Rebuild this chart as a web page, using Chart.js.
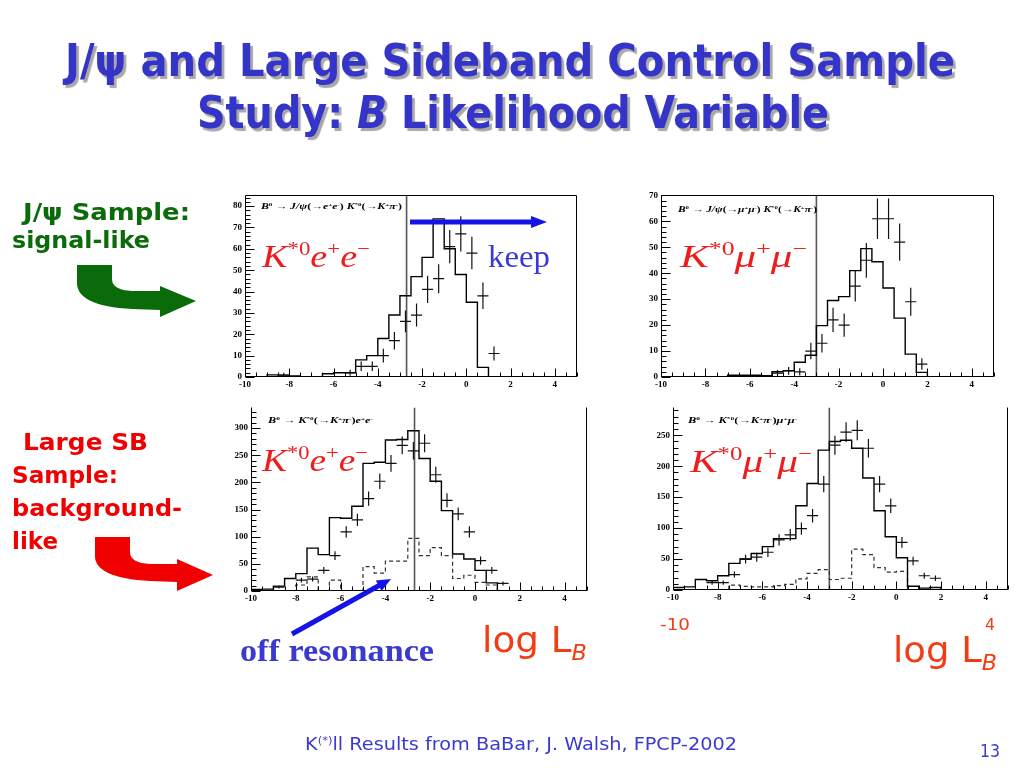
<!DOCTYPE html>
<html><head><meta charset="utf-8">
<script src="https://cdn.jsdelivr.net/npm/chart.js@4.4.0/dist/chart.umd.min.js"></script>
<style>
html,body{margin:0;padding:0;background:#fff;width:1024px;height:768px;overflow:hidden;position:relative}
.tx{position:absolute;white-space:nowrap;line-height:1;transform-origin:0 0;left:0;top:0}
.tx sup{font-size:0.6em;vertical-align:0.6em;line-height:0}
.tx sub{font-size:0.6em;vertical-align:-0.35em;line-height:0}
canvas{position:absolute}
.ttl{font:bold 44px "DejaVu Sans";color:#3434c8;text-shadow:3px 3px 1px #a8a8a8}
.grn{font:bold 23px "DejaVu Sans";color:#0b6b0b}
.red{font:bold 23px "DejaVu Sans";color:#f00000}
.kl{font:32px "Liberation Serif";color:#ee1c1c}
.rt{font:bold 8px "Liberation Serif";color:#000}
.lg{font:36px "DejaVu Sans";color:#f23c14}
.ft{font:18px "DejaVu Sans";color:#3a3ad0}
</style></head><body>

<canvas id="c1"></canvas><canvas id="c2"></canvas><canvas id="c3"></canvas><canvas id="c4"></canvas>

<div class="tx ttl" data-x="65" data-b="76" data-w="890">J/ψ and Large Sideband Control Sample</div>
<div class="tx ttl" data-x="197" data-b="128" data-w="632">Study: <i>B</i> Likelihood Variable</div>

<div class="tx grn" data-x="23" data-b="220" data-w="167">J/ψ Sample:</div>
<div class="tx grn" data-x="12" data-b="248" data-w="138">signal-like</div>
<div class="tx red" data-x="23" data-b="450" data-w="125">Large SB</div>
<div class="tx red" data-x="12" data-b="483" data-w="106">Sample:</div>
<div class="tx red" data-x="12" data-b="516" data-w="170">background-</div>
<div class="tx red" data-x="12" data-b="549" data-w="46">like</div>

<div class="tx rt" data-x="261" data-b="209" data-w="141"><i>B</i><sup>0</sup> → <i>J/ψ</i>(→<i>e</i><sup>+</sup><i>e</i><sup>-</sup>) <i>K</i><sup>*0</sup>(→<i>K</i><sup>+</sup><i>π</i><sup>-</sup>)</div>
<div class="tx rt" data-x="678" data-b="212" data-w="139"><i>B</i><sup>0</sup> → <i>J/ψ</i>(→<i>μ</i><sup>+</sup><i>μ</i><sup>-</sup>) <i>K</i><sup>*0</sup>(→<i>K</i><sup>+</sup><i>π</i><sup>-</sup>)</div>
<div class="tx rt" data-x="268" data-b="423" data-w="105"><i>B</i><sup>0</sup> → <i>K</i><sup>*0</sup>(→<i>K</i><sup>+</sup><i>π</i><sup>-</sup>)<i>e</i><sup>+</sup><i>e</i><sup>-</sup></div>
<div class="tx rt" data-x="688" data-b="423" data-w="109"><i>B</i><sup>0</sup> → <i>K</i><sup>*0</sup>(→<i>K</i><sup>+</sup><i>π</i><sup>-</sup>)<i>μ</i><sup>+</sup><i>μ</i><sup>-</sup></div>

<div class="tx kl" data-x="262" data-b="267" data-w="108"><i>K</i><sup>*0</sup><i>e</i><sup>+</sup><i>e</i><sup>−</sup></div>
<div class="tx kl" data-x="680" data-b="267" data-w="127"><i>K</i><sup>*0</sup><i>μ</i><sup>+</sup><i>μ</i><sup>−</sup></div>
<div class="tx kl" data-x="262" data-b="471" data-w="106"><i>K</i><sup>*0</sup><i>e</i><sup>+</sup><i>e</i><sup>−</sup></div>
<div class="tx kl" data-x="690" data-b="472" data-w="122"><i>K</i><sup>*0</sup><i>μ</i><sup>+</sup><i>μ</i><sup>−</sup></div>

<div class="tx" style="font:31px 'Liberation Serif';color:#3a3ad0" data-x="488" data-b="267" data-w="62">keep</div>
<div class="tx" style="font:bold 32px 'Liberation Serif';color:#3a3ad0" data-x="240" data-b="661" data-w="194">off resonance</div>

<div class="tx lg" data-x="482" data-b="652" data-w="105">log L<sub><i>B</i></sub></div>
<div class="tx lg" data-x="893" data-b="662" data-w="104">log L<sub><i>B</i></sub></div>
<div class="tx" style="font:16px 'DejaVu Sans';color:#f23c14" data-x="660" data-b="630" data-w="30">-10</div>
<div class="tx" style="font:16px 'DejaVu Sans';color:#f23c14" data-x="985" data-b="630" data-w="10">4</div>

<div class="tx ft" data-x="305" data-b="750" data-w="432">K<sup>(*)</sup>ll Results from BaBar, J. Walsh, FPCP-2002</div>
<div class="tx" style="font:17px 'DejaVu Sans';color:#3a3ad0" data-x="980" data-b="757" data-w="20">13</div>

<svg width="1024" height="768" style="position:absolute;left:0;top:0;z-index:5;pointer-events:none">
 <path d="M77,265 L112,265 L112,279 Q112,290 132,291 L160,291 L160,286 L196,301 L160,317 L160,310 L132,309 Q77,306 77,283 Z" fill="#0b6b0b"/>
 <path d="M95,537 L130,537 L130,552 Q130,563 150,564 L177,564 L177,559 L213,575 L177,591 L177,582 L150,581 Q95,578 95,556 Z" fill="#f00000"/>
 <line x1="410" y1="222" x2="533" y2="222" stroke="#1414e8" stroke-width="5"/>
 <polygon points="531,216 547,222 531,228" fill="#1414e8"/>
 <line x1="292" y1="634" x2="380" y2="585" stroke="#1414e8" stroke-width="5"/>
 <polygon points="381.6,591.1 391,579 375.8,580.5" fill="#1414e8"/>
</svg>

<script>
// ---- data ----
const binEdges = [-10,-9.5,-9,-8.5,-8,-7.5,-7,-6.5,-6,-5.5,-5,-4.5,-4,-3.5,-3,-2.5,-2,-1.5,-1,-0.5,0,0.5,1,1.5,2,2.5,3,3.5,4,4.5,5];
const xTickLabels = [-10,-8,-6,-4,-2,0,2,4];
const yTicksTop1 = [0,10,20,30,40,50,60,70,80];
const yTicksTop2 = [0,10,20,30,40,50,60,70];
const yTicksBot1 = [0,50,100,150,200,250,300];
const yTicksBot2 = [0,50,100,150,200,250];
const cutValues = [-2.7,-3,-2.7,-3];

// J/psi -> e+e- (top left)
const p1Hist = [0,0,0,1,0.5,0.5,0,0,1.5,2,2,8,10,18,29,38,47,56,74,60,48,35,4.5,0,0,0,0,0,0,0];
const p1Data = [null,null,null,1,null,null,null,null,null,2,5,5,10,17,26,29,41,46,61,67,58,38,11,null,null,null,null,null,null,null];
const p1Err  = [null,null,null,1,null,null,null,null,null,1.4,2.2,2.2,3.2,4.1,5.1,5.4,6.4,6.8,7.8,8.2,7.6,6.2,3.3,null,null,null,null,null,null,null];

// J/psi -> mu+mu- (top right)
const p2Hist = [0,0,0,0,0,0,0,0.7,0.7,0.7,0.5,2,2.4,5.7,8.4,19.8,29.5,31,41,49.5,44.4,34.3,22.7,8.8,1.8,0,0,0,0,0];
const p2Data = [null,null,null,null,null,null,null,null,null,null,1.5,2.4,2,10,13,22,20,35,45,61,61,52,29,5,null,null,null,null,null,null];
const p2Err  = [null,null,null,null,null,null,null,null,null,null,1.2,1.5,1.4,3.2,3.6,4.7,4.5,5.9,6.7,7.8,7.8,7.2,5.4,2.2,null,null,null,null,null,null];

// Large sideband e+e- (bottom left)
const p3Hist = [0,3,3.5,9,23,32,79,67,135,134,156,235,237,278,279,295,244,202,148,68,59,38,15,0,0,0,0,0,0,0];
const p3Off  = [0,0,0,0,0,11,26,0,20,0,0,45,33,55,55,97,65,80,65,23,29,16,11,0,0,0,0,0,0,0];
const p3Data = [null,null,7,null,20,22,38,65,109,131,170,202,235,268,258,272,214,167,142,109,56,38,14,null,null,null,null,null,null,null];
const p3Err  = [null,null,2.6,null,4.5,4.7,6.2,8.1,10.4,11.4,13,14.2,15.3,16.4,16.1,16.5,14.6,12.9,11.9,10.4,7.5,6.2,3.7,null,null,null,null,null,null,null];

// Large sideband mu+mu- (bottom right)
const p4Hist = [4,4,5,17,15,23,43,50,59,70,83,83,136,172,226,240,242,229,181,128,86,52,6,3,4,0,0,0,0,0];
const p4Off  = [0,0,0,0,0,0,8,6,5,5,7,9,18,27,33,17,19,66,57,36,29,30,0,0,0,0,0,0,0,0];
const p4Data = [null,null,null,12,12,25,50,53,61,81,89,99,120,171,234,255,258,229,171,136,77,47,23,19,null,null,null,null,null,null];
const p4Err  = [null,null,null,3.5,3.5,5,7.1,7.3,7.8,9,9.4,9.9,11,13.1,15.3,16,16.1,15.1,13.1,11.7,8.8,6.9,4.8,4.4,null,null,null,null,null,null];

// ---- helpers ----
function histPts(vals) {
  const pts = [{x: binEdges[0], y: 0}];
  vals.forEach((v, i) => pts.push({x: binEdges[i], y: v}));
  pts.push({x: binEdges[vals.length], y: 0});
  return pts;
}
function crossPts(vals, errs) {
  const pts = [];
  vals.forEach((v, i) => {
    if (v === null) return;
    const lo = binEdges[i], hi = binEdges[i + 1], c = (lo + hi) / 2, e = errs[i];
    pts.push({x: lo, y: v}, {x: hi, y: v}, {x: hi, y: null},
             {x: c, y: Math.max(0, v - e)}, {x: c, y: v + e}, {x: c, y: null});
  });
  return pts;
}

const rootFrame = {
  id: 'rootFrame',
  afterDatasetsDraw(chart, args, o) {
    const {ctx, chartArea: a, scales: {x, y}} = chart;
    ctx.save();
    ctx.strokeStyle = '#000';
    ctx.lineWidth = 1;
    ctx.beginPath();
    const L = Math.round(a.left) + 0.5, R = Math.round(a.right) - 0.5, T = Math.round(a.top) + 0.5, B = Math.round(a.bottom) - 0.5;
    ctx.moveTo(L, T); ctx.lineTo(L, B); ctx.lineTo(R, B); ctx.lineTo(R, T);
    if (o.top) ctx.lineTo(L, T);
    for (let v = x.min; v <= x.max + 1e-9; v += 0.5) {
      const px = Math.round(x.getPixelForValue(v)) + 0.5;
      const major = Math.abs(v / 2 - Math.round(v / 2)) < 1e-6;
      ctx.moveTo(px, B); ctx.lineTo(px, B - (major ? 8 : 4));
    }
    for (let v = 0; v <= y.max + 1e-9; v += o.minor) {
      const py = Math.round(y.getPixelForValue(v)) + 0.5;
      const major = Math.abs(v / o.major - Math.round(v / o.major)) < 1e-6;
      ctx.moveTo(L, py); ctx.lineTo(L + (major ? 9 : 5), py);
    }
    ctx.stroke();
    ctx.restore();
  }
};

function makePanel(id, g, ymax, yTicks, minor, hist, dataVals, dataErr, offVals, cut, top) {
  const cv = document.getElementById(id);
  const padT = 6, padR = 4, yW = 30, xH = 16;
  cv.style.left = (g.l - yW) + 'px';
  cv.style.top = (g.t - padT) + 'px';
  const W = g.r - g.l + yW + padR, H = g.b - g.t + padT + xH;
  cv.width = W; cv.height = H;
  cv.style.width = W + 'px'; cv.style.height = H + 'px';
  const datasets = [
    {data: histPts(hist), stepped: 'after', borderColor: '#000', borderWidth: 1.4, pointRadius: 0, fill: false},
    {data: crossPts(dataVals, dataErr), borderColor: '#111', borderWidth: 1.2, pointRadius: 0, fill: false, spanGaps: false},
    {data: [{x: cut, y: 0}, {x: cut, y: ymax}], borderColor: '#555', borderWidth: 1.6, pointRadius: 0, fill: false}
  ];
  if (offVals) datasets.splice(1, 0, {data: histPts(offVals), stepped: 'after', borderColor: '#333', borderWidth: 1.2, borderDash: [4, 3], pointRadius: 0, fill: false});
  const tickFont = {family: 'Liberation Serif', size: 9, weight: 'bold'};
  new Chart(cv, {
    type: 'line',
    data: {datasets},
    options: {
      responsive: false, animation: false, devicePixelRatio: 1,
      layout: {padding: {top: padT, right: padR, left: 0, bottom: 0}, autoPadding: false},
      plugins: {legend: {display: false}, tooltip: {enabled: false}, rootFrame: {minor: minor, major: yTicks[1] - yTicks[0], top: top}},
      scales: {
        x: {type: 'linear', min: binEdges[0], max: binEdges[binEdges.length - 1],
            grid: {display: false, drawTicks: false}, border: {display: false},
            afterBuildTicks: s => { s.ticks = xTickLabels.map(v => ({value: v})); },
            afterFit: s => { s.height = xH; },
            ticks: {font: tickFont, color: '#000', padding: 2, maxRotation: 0, autoSkip: false}},
        y: {type: 'linear', min: 0, max: ymax,
            grid: {display: false, drawTicks: false}, border: {display: false},
            afterBuildTicks: s => { s.ticks = yTicks.map(v => ({value: v})); },
            afterFit: s => { s.width = yW; },
            ticks: {font: tickFont, color: '#000', padding: 3, autoSkip: false}}
      }
    },
    plugins: [rootFrame]
  });
}

makePanel('c1', {l: 245, r: 577, t: 193, b: 377}, 85, yTicksTop1, 2, p1Hist, p1Data, p1Err, null, cutValues[0], true);
makePanel('c2', {l: 661, r: 994, t: 193, b: 377}, 70, yTicksTop2, 2, p2Hist, p2Data, p2Err, null, cutValues[1], true);
makePanel('c3', {l: 251, r: 587, t: 405, b: 591}, 338, yTicksBot1, 10, p3Hist, p3Data, p3Err, p3Off, cutValues[2], false);
makePanel('c4', {l: 673, r: 1008, t: 405, b: 590}, 295, yTicksBot2, 10, p4Hist, p4Data, p4Err, p4Off, cutValues[3], false);

// ---- text placement ----
document.querySelectorAll('.tx').forEach(el => {
  el.style.zIndex = 6;
  const bl = document.createElement('span');
  bl.style.cssText = 'display:inline-block;width:0;height:0;vertical-align:baseline';
  el.insertBefore(bl, el.firstChild);
  const base = bl.offsetTop;
  const w = el.getBoundingClientRect().width;
  const tw = parseFloat(el.dataset.w);
  el.style.left = el.dataset.x + 'px';
  el.style.top = (parseFloat(el.dataset.b) - base) + 'px';
  if (tw && w) el.style.transform = 'scaleX(' + (tw / w) + ')';
});
</script>
</body></html>
